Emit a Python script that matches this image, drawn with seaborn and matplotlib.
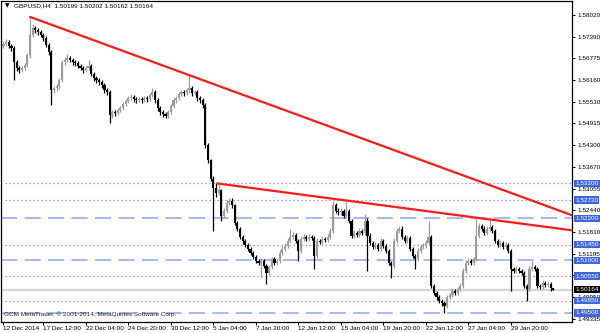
import numpy as np
import pandas as pd
import matplotlib
matplotlib.use("Agg")
import matplotlib.pyplot as plt
import matplotlib.transforms as mtransforms
import seaborn as sns

# ---------------- data (GBPUSD H4) ----------------
opens = [1.5713,1.5719,1.5725,1.5713,1.5707,1.5667,1.5650,1.5644,1.5650,1.5658,
 1.5687,1.5745,1.5765,1.5759,1.5753,1.5745,1.5736,1.5716,1.5696,1.5587,
 1.5592,1.5598,1.5615,1.5667,1.5673,1.5679,1.5673,1.5667,1.5664,1.5656,
 1.5650,1.5644,1.5650,1.5656,1.5633,1.5621,1.5615,1.5610,1.5601,1.5587,
 1.5581,1.5515,1.5524,1.5521,1.5529,1.5535,1.5547,1.5555,1.5564,1.5567,
 1.5561,1.5558,1.5561,1.5558,1.5564,1.5561,1.5572,1.5581,1.5558,1.5535,
 1.5524,1.5518,1.5512,1.5524,1.5541,1.5558,1.5564,1.5575,1.5581,1.5578,
 1.5587,1.5592,1.5578,1.5581,1.5564,1.5558,1.5544,1.5429,1.5386,1.5334,
 1.5306,1.5294,1.5300,1.5228,1.5242,1.5265,1.5271,1.5257,1.5208,1.5191,
 1.5168,1.5156,1.5145,1.5133,1.5122,1.5110,1.5099,1.5093,1.5099,1.5084,
 1.5064,1.5081,1.5104,1.5093,1.5099,1.5122,1.5133,1.5142,1.5156,1.5168,
 1.5173,1.5156,1.5128,1.5162,1.5168,1.5162,1.5168,1.5165,1.5113,1.5156,
 1.5153,1.5162,1.5159,1.5168,1.5185,1.5257,1.5242,1.5237,1.5242,1.5228,
 1.5242,1.5214,1.5171,1.5179,1.5173,1.5185,1.5179,1.5214,1.5171,1.5150,
 1.5139,1.5145,1.5133,1.5156,1.5142,1.5128,1.5093,1.5084,1.5156,1.5185,
 1.5191,1.5168,1.5156,1.5165,1.5133,1.5113,1.5104,1.5128,1.5139,1.5142,
 1.5150,1.5168,1.5027,1.5007,1.4995,1.4984,1.4978,1.4970,1.4995,1.5001,
 1.5013,1.5007,1.5018,1.5027,1.5070,1.5093,1.5099,1.5093,1.5104,1.5171,
 1.5199,1.5191,1.5179,1.5191,1.5196,1.5185,1.5156,1.5145,1.5150,1.5139,
 1.5145,1.5128,1.5076,1.5070,1.5076,1.5070,1.5064,1.5027,1.5018,1.5076,
 1.5081,1.5076,1.5027,1.5024,1.5036,1.5030,1.5033,1.50199]

highs = [1.5726,1.5733,1.5730,1.5719,1.5712,1.5673,1.5656,1.5657,1.5664,1.5694,
 1.5796,1.5776,1.5771,1.5764,1.5759,1.5751,1.5741,1.5722,1.5701,1.5599,
 1.5605,1.5622,1.5674,1.5681,1.5690,1.5685,1.5679,1.5672,1.5670,1.5662,
 1.5656,1.5657,1.5673,1.5661,1.5639,1.5627,1.5621,1.5616,1.5607,1.5593,
 1.5586,1.5531,1.5530,1.5536,1.5542,1.5554,1.5562,1.5571,1.5575,1.5573,
 1.5567,1.5568,1.5566,1.5571,1.5570,1.5579,1.5592,1.5587,1.5563,1.5541,
 1.5530,1.5523,1.5531,1.5548,1.5565,1.5571,1.5582,1.5588,1.5587,1.5594,
 1.5630,1.5598,1.5588,1.5587,1.5570,1.5564,1.5549,1.5435,1.5391,1.5340,
 1.5322,1.5318,1.5305,1.5249,1.5272,1.5279,1.5277,1.5262,1.5214,1.5196,
 1.5174,1.5162,1.5151,1.5139,1.5128,1.5116,1.5105,1.5106,1.5105,1.5090,
 1.5088,1.5111,1.5110,1.5107,1.5129,1.5140,1.5149,1.5163,1.5191,1.5181,
 1.5179,1.5161,1.5169,1.5175,1.5174,1.5175,1.5173,1.5170,1.5163,1.5162,
 1.5169,1.5168,1.5175,1.5192,1.5271,1.5263,1.5249,1.5250,1.5248,1.5271,
 1.5248,1.5219,1.5186,1.5185,1.5192,1.5191,1.5234,1.5220,1.5177,1.5156,
 1.5152,1.5151,1.5163,1.5162,1.5148,1.5134,1.5099,1.5163,1.5192,1.5199,
 1.5197,1.5174,1.5172,1.5171,1.5139,1.5119,1.5135,1.5146,1.5149,1.5157,
 1.5214,1.5173,1.5033,1.5013,1.5001,1.4990,1.4984,1.5002,1.5008,1.5020,
 1.5019,1.5025,1.5034,1.5077,1.5100,1.5106,1.5105,1.5111,1.5220,1.5206,
 1.5205,1.5197,1.5198,1.5220,1.5202,1.5191,1.5162,1.5157,1.5156,1.5152,
 1.5151,1.5134,1.5082,1.5083,1.5082,1.5076,1.5070,1.5033,1.5083,1.5099,
 1.5087,1.5082,1.5033,1.5043,1.5042,1.5040,1.5039,1.50202]

lows = [1.5707,1.5713,1.5706,1.5698,1.5615,1.5642,1.5636,1.5638,1.5644,1.5652,
 1.5680,1.5738,1.5750,1.5745,1.5738,1.5728,1.5709,1.5688,1.5544,1.5578,
 1.5585,1.5591,1.5609,1.5660,1.5666,1.5666,1.5659,1.5657,1.5649,1.5643,
 1.5637,1.5638,1.5644,1.5626,1.5614,1.5607,1.5602,1.5594,1.5580,1.5573,
 1.5492,1.5508,1.5513,1.5515,1.5523,1.5529,1.5541,1.5549,1.5558,1.5554,
 1.5551,1.5552,1.5551,1.5552,1.5554,1.5555,1.5566,1.5551,1.5528,1.5517,
 1.5511,1.5507,1.5506,1.5518,1.5535,1.5551,1.5558,1.5569,1.5571,1.5572,
 1.5580,1.5571,1.5572,1.5557,1.5551,1.5537,1.5422,1.5379,1.5327,1.5185,
 1.5280,1.5286,1.5214,1.5221,1.5236,1.5258,1.5250,1.5201,1.5184,1.5161,
 1.5148,1.5138,1.5126,1.5115,1.5103,1.5092,1.5086,1.5053,1.5077,1.5033,
 1.5058,1.5075,1.5086,1.5087,1.5093,1.5116,1.5127,1.5136,1.5150,1.5161,
 1.5149,1.5099,1.5122,1.5155,1.5155,1.5156,1.5158,1.5076,1.5107,1.5146,
 1.5147,1.5152,1.5153,1.5162,1.5179,1.5235,1.5230,1.5231,1.5221,1.5222,
 1.5207,1.5164,1.5165,1.5166,1.5167,1.5172,1.5173,1.5070,1.5143,1.5132,
 1.5133,1.5126,1.5127,1.5135,1.5121,1.5086,1.5050,1.5078,1.5150,1.5178,
 1.5161,1.5149,1.5150,1.5126,1.5106,1.5076,1.5098,1.5122,1.5133,1.5136,
 1.5144,1.5020,1.5000,1.4988,1.4977,1.4971,1.4950,1.4964,1.4989,1.4995,
 1.5000,1.5001,1.5012,1.5021,1.5064,1.5087,1.5086,1.5087,1.5098,1.5165,
 1.5184,1.5172,1.5173,1.5185,1.5178,1.5149,1.5138,1.5139,1.5132,1.5133,
 1.5121,1.5013,1.5063,1.5064,1.5063,1.5057,1.5020,1.4984,1.5012,1.5070,
 1.5069,1.5020,1.5017,1.5018,1.5023,1.5024,1.5013,1.50162]

closes = [1.5719,1.5725,1.5713,1.5707,1.5667,1.5650,1.5644,1.5650,1.5658,1.5687,
 1.5745,1.5765,1.5759,1.5753,1.5745,1.5736,1.5716,1.5696,1.5587,1.5592,
 1.5598,1.5615,1.5667,1.5673,1.5679,1.5673,1.5667,1.5664,1.5656,1.5650,
 1.5644,1.5650,1.5656,1.5633,1.5621,1.5615,1.5610,1.5601,1.5587,1.5581,
 1.5515,1.5524,1.5521,1.5529,1.5535,1.5547,1.5555,1.5564,1.5567,1.5561,
 1.5558,1.5561,1.5558,1.5564,1.5561,1.5572,1.5581,1.5558,1.5535,1.5524,
 1.5518,1.5512,1.5524,1.5541,1.5558,1.5564,1.5575,1.5581,1.5578,1.5587,
 1.5592,1.5578,1.5581,1.5564,1.5558,1.5544,1.5429,1.5386,1.5334,1.5306,
 1.5294,1.5300,1.5228,1.5242,1.5265,1.5271,1.5257,1.5208,1.5191,1.5168,
 1.5156,1.5145,1.5133,1.5122,1.5110,1.5099,1.5093,1.5099,1.5084,1.5064,
 1.5081,1.5104,1.5093,1.5099,1.5122,1.5133,1.5142,1.5156,1.5168,1.5173,
 1.5156,1.5128,1.5162,1.5168,1.5162,1.5168,1.5165,1.5113,1.5156,1.5153,
 1.5162,1.5159,1.5168,1.5185,1.5257,1.5242,1.5237,1.5242,1.5228,1.5242,
 1.5214,1.5171,1.5179,1.5173,1.5185,1.5179,1.5214,1.5171,1.5150,1.5139,
 1.5145,1.5133,1.5156,1.5142,1.5128,1.5093,1.5084,1.5156,1.5185,1.5191,
 1.5168,1.5156,1.5165,1.5133,1.5113,1.5104,1.5128,1.5139,1.5142,1.5150,
 1.5168,1.5027,1.5007,1.4995,1.4984,1.4978,1.4970,1.4995,1.5001,1.5013,
 1.5007,1.5018,1.5027,1.5070,1.5093,1.5099,1.5093,1.5104,1.5171,1.5199,
 1.5191,1.5179,1.5191,1.5196,1.5185,1.5156,1.5145,1.5150,1.5139,1.5145,
 1.5128,1.5076,1.5070,1.5076,1.5070,1.5064,1.5027,1.5018,1.5076,1.5081,
 1.5076,1.5027,1.5024,1.5036,1.5030,1.5033,1.5020,1.50164]

# trend lines (bar index, price)
trend_upper_bars = [10, 214]
trend_upper_prices = [1.5796, 1.5229]
trend_lower_bars = [80.4, 214]
trend_lower_prices = [1.5320, 1.5186]

# horizontal levels
dotted_levels = [1.5320, 1.5272, 1.5145, 1.5055, 1.4985]
dashed_levels = [1.5220, 1.5100, 1.4950]
bid_price = 1.50164

price_ticks = [1.58020, 1.57390, 1.56775, 1.56160, 1.55530, 1.54915, 1.54300,
               1.53670, 1.53055, 1.52440, 1.51810, 1.51195, 1.50580, 1.49950, 1.49335]
price_tick_labels = ["1.58020", "1.57390", "1.56775", "1.56160", "1.55530", "1.54915",
                     "1.54300", "1.53670", "1.53055", "1.52440", "1.51810", "1.51195",
                     "", "1.49950", "1.49335"]
time_tick_bars = [0, 15, 31, 47, 63, 79, 95, 111, 127, 143, 159, 175, 191]
time_tick_labels = ["12 Dec 2014", "17 Dec 12:00", "22 Dec 04:00", "24 Dec 20:00",
                    "30 Dec 12:00", "5 Jan 04:00", "7 Jan 20:00", "12 Jan 12:00",
                    "15 Jan 04:00", "19 Jan 20:00", "22 Jan 12:00", "27 Jan 04:00",
                    "29 Jan 20:00"]

# ---------------- styling ----------------
sns.set_theme(style="white")
plt.rcParams["font.family"] = ["Liberation Sans", "DejaVu Sans"]
FS = 4.6
BULL = "#9c9c9c"
BEAR = "#000000"
DOT_C = "#6f86e6"
DASH_C = "#9fb3f2"
BOX_C = "#3f67db"

fig = plt.figure(figsize=(6.0, 3.33), dpi=100)
W, H = 600.0, 333.0
ax = fig.add_axes([1 / W, (H - 322) / H, 571 / W, 321 / H])

df = pd.DataFrame({"o": opens, "h": highs, "l": lows, "c": closes})
df["bar"] = np.arange(len(df))
up = df["c"] >= df["o"]
colors = np.where(up, BULL, BEAR)

# horizontal lines
for lv in dotted_levels:
    ax.axhline(lv, color=DOT_C, lw=0.9, ls=(0, (1, 2.2)), zorder=1)
for lv in dashed_levels:
    ax.axhline(lv, color=DASH_C, lw=1.3, ls=(0, (9, 4)), zorder=1)
ax.axhline(bid_price, color="#d6d6d6", lw=1.6, zorder=0.8)

# candles
ax.vlines(df["bar"], df["l"], df["h"], colors=colors, lw=0.9, zorder=3)
body_bottom = np.minimum(df["o"], df["c"])
body_h = np.maximum(np.abs(df["c"] - df["o"]), 0.00015)
ax.bar(df["bar"], body_h, bottom=body_bottom, width=0.8, color=colors,
       linewidth=0, zorder=3)

# trend lines via seaborn
tl = pd.DataFrame({
    "bar": trend_upper_bars + trend_lower_bars,
    "price": trend_upper_prices + trend_lower_prices,
    "line": ["upper", "upper", "lower", "lower"],
})
sns.lineplot(data=tl, x="bar", y="price", units="line", estimator=None,
             color="#ff1a1a", lw=1.6, ax=ax, legend=False, zorder=4)

# axes limits / ticks
ax.set_xlim(-0.94, 214.0)
ax.set_ylim(1.49239, 1.58416)
ax.set_xlabel("")
ax.set_ylabel("")
ax.yaxis.tick_right()
ax.set_yticks(price_ticks)
ax.set_yticklabels(price_tick_labels)
ax.set_xticks(time_tick_bars)
ax.set_xticklabels(time_tick_labels, ha="left")
ax.tick_params(axis="y", which="both", right=True, left=False, direction="out",
               length=2.5, width=0.7, pad=1.2, labelsize=FS, colors="#000000")
ax.tick_params(axis="x", which="both", bottom=True, direction="out",
               length=2.5, width=0.7, pad=0.3, labelsize=FS, colors="#000000")
for s in ax.spines.values():
    s.set_color("#000000")
    s.set_linewidth(0.9)
    s.set_visible(True)
ax.grid(False)

# level labels on price scale
trans = mtransforms.blended_transform_factory(ax.transAxes, ax.transData)
box_x = 1.0 + 3 / 571
for lv in dotted_levels + dashed_levels:
    ax.text(box_x, lv, f"{lv:.5f}", transform=trans, fontsize=FS, color="white",
            ha="left", va="center", clip_on=False, zorder=10,
            bbox=dict(boxstyle="square,pad=0.2", fc=BOX_C, ec="none"))
ax.text(box_x, bid_price, f"{bid_price:.5f}", transform=trans, fontsize=FS,
        color="white", ha="left", va="center", clip_on=False, zorder=11,
        bbox=dict(boxstyle="square,pad=0.2", fc="black", ec="none"))

# header and copyright
fig.text(5 / W, 1 - 6 / H, "▼", fontsize=4.2, color="black", va="center",
         ha="left", family=["DejaVu Sans"])
fig.text(14 / W, 1 - 6 / H, "GBPUSD,H4  1.50199 1.50202 1.50162 1.50164",
         fontsize=FS, color="black", va="center", ha="left")
fig.text(4 / W, (H - 314) / H,
         "GCM MetaTrader, © 2001-2014, MetaQuotes Software Corp.",
         fontsize=FS, color="#222222", va="center", ha="left")

fig.savefig("out.png", dpi=100)
